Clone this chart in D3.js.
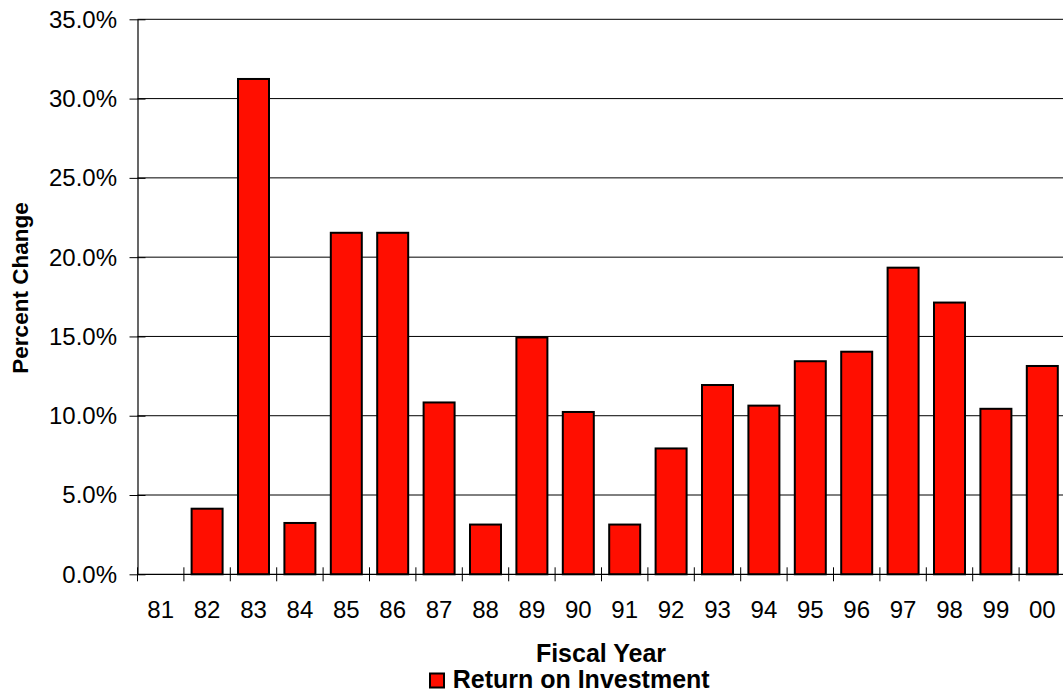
<!DOCTYPE html>
<html>
<head>
<meta charset="utf-8">
<script src="https://cdn.jsdelivr.net/npm/d3@7"></script>
<style>
  html, body { margin: 0; padding: 0; background: #fff; }
  svg { display: block; font-family: "Liberation Sans", Arial, sans-serif; }
</style>
</head>
<body>
<svg id="chart" width="1063" height="696"></svg>
<script>
const years = ["81","82","83","84","85","86","87","88","89","90","91","92","93","94","95","96","97","98","99","00"];
const roi = [0, 4.2, 31.3, 3.3, 21.6, 21.6, 10.9, 3.2, 15.0, 10.3, 3.2, 8.0, 12.0, 10.7, 13.5, 14.1, 19.4, 17.2, 10.5, 13.2];
const yTicks = [0, 5, 10, 15, 20, 25, 30, 35];
const seriesName = "Return on Investment";
const xTitle = "Fiscal Year";
const yTitle = "Percent Change";

(function () {
const svg = d3.select("#chart");
const pLeft = 137.5, pRight = 1065.5, pTop = 19.3, pBottom = 574.3;

const x = d3.scaleBand().domain(years).range([pLeft, pRight]).paddingInner(0.332).paddingOuter(0.166);
const y = d3.scaleLinear().domain([0, 35]).range([pBottom, pTop]);

// gridlines
svg.append("g").selectAll("line").data(yTicks.filter(d => d > 0)).join("line")
  .attr("x1", pLeft).attr("x2", 1063)
  .attr("y1", d => y(d)).attr("y2", d => y(d))
  .attr("stroke", "#000").attr("stroke-width", 1);

// bars
svg.append("g").selectAll("rect").data(years.map((d, i) => ({ year: d, v: roi[i] })).filter(d => d.v > 0)).join("rect")
  .attr("x", d => x(d.year))
  .attr("width", x.bandwidth())
  .attr("y", d => y(d.v) + 1)
  .attr("height", d => y(0) - y(d.v) - 1)
  .attr("fill", "#ff0e00")
  .attr("stroke", "#000")
  .attr("stroke-width", 2);

// y axis
const yAxis = d3.axisLeft(y).tickValues(yTicks).tickFormat(d => d.toFixed(1) + "%").tickSizeInner(8).tickSizeOuter(0).tickPadding(12);
const gy = svg.append("g").attr("transform", `translate(${pLeft},0)`).call(yAxis);
gy.select(".domain").attr("stroke", "#000").attr("stroke-width", 1.2);
gy.selectAll(".tick line").attr("x2", -8).attr("x1", 8).attr("stroke", "#000");
gy.selectAll(".tick text").attr("font-size", 24).attr("font-family", "Liberation Sans, Arial, sans-serif").attr("fill", "#000").attr("dy", "0.33em").attr("x", -20.5);

// x axis
const gap = (x.step() - x.bandwidth()) / 2;
const gx = svg.append("g").attr("transform", `translate(0,${pBottom})`);
gx.append("line").attr("x1", pLeft).attr("x2", 1063).attr("y1", 0).attr("y2", 0).attr("stroke", "#000").attr("stroke-width", 1.2);
gx.selectAll("line.tk").data(years).join("line").attr("class", "tk")
  .attr("x1", d => x(d) - gap)
  .attr("x2", d => x(d) - gap)
  .attr("y1", -7).attr("y2", 7).attr("stroke", "#000");
gx.selectAll("text").data(years).join("text")
  .attr("x", d => x(d) + x.bandwidth() / 2)
  .attr("y", 44)
  .attr("text-anchor", "middle")
  .attr("font-size", 24)
  .attr("fill", "#000")
  .text(d => d);

// x title
svg.append("text").attr("x", 601).attr("y", 662).attr("text-anchor", "middle")
  .attr("font-size", 25).attr("font-weight", "bold").text(xTitle);

// y title
svg.append("text").attr("transform", "translate(27.5,288) rotate(-90)").attr("text-anchor", "middle")
  .attr("font-size", 22.5).attr("font-weight", "bold").text(yTitle);

// legend
svg.append("rect").attr("x", 430).attr("y", 673.5).attr("width", 14).attr("height", 14)
  .attr("fill", "#ff0e00").attr("stroke", "#000").attr("stroke-width", 2);
svg.append("text").attr("x", 452.7).attr("y", 688)
  .attr("font-size", 25).attr("font-weight", "bold").text(seriesName);
})();
</script>
</body>
</html>
